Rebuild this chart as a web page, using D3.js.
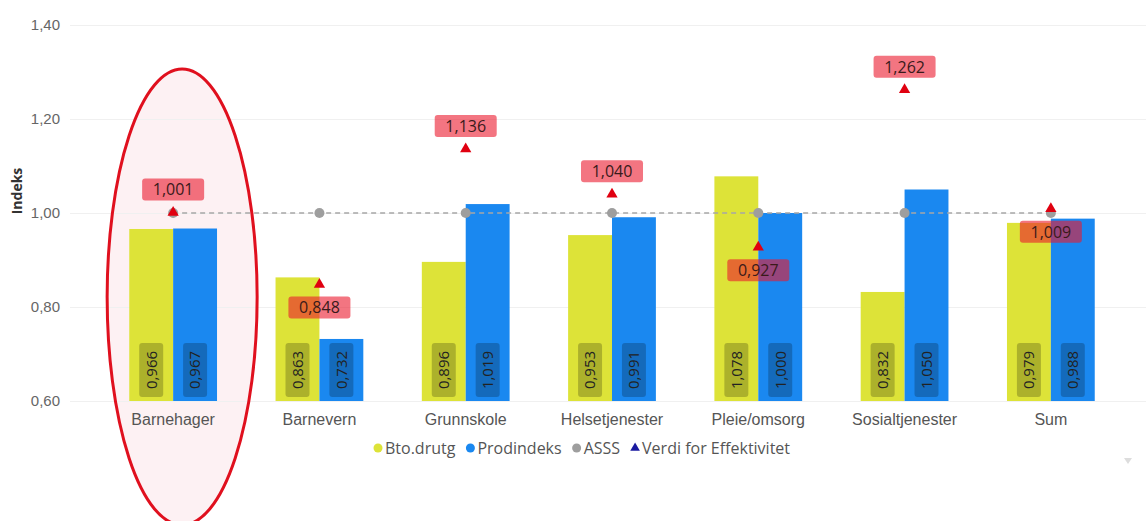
<!DOCTYPE html>
<html><head><meta charset="utf-8">
<script src="https://cdn.jsdelivr.net/npm/d3@7"></script>
<style>
html,body{margin:0;padding:0;background:#fff;}
svg{display:block;font-family:"Open Sans","Noto Sans",sans-serif;}
</style></head>
<body><svg id="c" width="1146" height="521"></svg>
<script>
const categories = ["Barnehager","Barnevern","Grunnskole","Helsetjenester","Pleie/omsorg","Sosialtjenester","Sum"];
const btoDrutg = [0.966,0.863,0.896,0.953,1.078,0.832,0.979];
const prodindeks = [0.967,0.732,1.019,0.991,1.000,1.050,0.988];
const asss = [1.000,1.000,1.000,1.000,1.000,1.000,1.000];
const effektivitet = [1.001,0.848,1.136,1.040,0.927,1.262,1.009];
const yTicks = [0.6,0.8,1.0,1.2,1.4];
const effLabelBelow = ["Barnevern","Pleie/omsorg","Sum"];
const legendItems = ["Bto.drutg","Prodindeks","ASSS","Verdi for Effektivitet"];
const highlighted = "Barnehager";

const W=1146,H=521;
const svg=d3.select("#c");
const loc=d3.formatLocale({decimal:",",thousands:" ",grouping:[3],currency:["","kr"]});
const f2=loc.format(".2f"), f3=loc.format(".3f");

const x=d3.scaleBand().domain(categories).range([100,1124]).paddingInner(0.4).paddingOuter(0.2);
const x1=d3.scaleBand().domain(["bto","prod"]).range([0,x.bandwidth()]);
const y=d3.scaleLinear().domain([0.6,1.4]).range([401,25]);

const colBto="#dde338", colProd="#1a88f0", colAsss="#9e9e9e", colTri="#e00010";

// highlight ellipse fill
const hx=x(highlighted)+x.bandwidth()/2+9;
svg.append("ellipse").attr("cx",hx).attr("cy",297).attr("rx",75).attr("ry",228)
  .attr("fill","#fdf1f3");

// grid + y axis
const gy=svg.append("g").attr("transform","translate(70,0)")
  .call(d3.axisLeft(y).tickValues(yTicks).tickFormat(f2).tickSize(-(W-70)).tickPadding(10));
gy.select(".domain").remove();
gy.selectAll(".tick line").attr("stroke","#f0f0f0");
gy.selectAll(".tick text").attr("fill","#666").attr("font-size",15);

svg.append("text").attr("transform","translate(22,"+191+") rotate(-90)")
  .attr("text-anchor","middle").attr("font-size",14).attr("font-weight","bold").attr("fill","#333").text("Indeks");

// x axis
const gx=svg.append("g").attr("transform","translate(0,401)")
  .call(d3.axisBottom(x).tickSize(0).tickPadding(13));
gx.select(".domain").remove();
gx.selectAll(".tick text").attr("fill","#555").attr("font-size",16);

// bars
const rows=categories.map((c,i)=>({c,bto:btoDrutg[i],prod:prodindeks[i],asss:asss[i],eff:effektivitet[i]}));
const bars=[];
rows.forEach(r=>{bars.push({c:r.c,k:"bto",v:r.bto});bars.push({c:r.c,k:"prod",v:r.prod});});
svg.append("g").selectAll("rect").data(bars).join("rect")
  .attr("x",d=>x(d.c)+x1(d.k)).attr("width",x1.bandwidth())
  .attr("y",d=>y(d.v)).attr("height",d=>y(0.6)-y(d.v))
  .attr("fill",d=>d.k==="bto"?colBto:colProd);

// bar value labels
const bl=svg.append("g").selectAll("g").data(bars).join("g")
  .attr("transform",d=>`translate(${x(d.c)+x1(d.k)+x1.bandwidth()/2},370)`);
bl.append("rect").attr("x",-12).attr("y",-27).attr("width",24).attr("height",54).attr("rx",3)
  .attr("fill","#000").attr("fill-opacity",0.22);
bl.append("text").attr("transform","rotate(-90)").attr("text-anchor","middle").attr("dy","0.36em")
  .attr("font-size",15).attr("fill","#222").text(d=>f3(d.v));

// ASSS line
const cx=c=>x(c)+x.bandwidth()/2;
svg.append("path").datum(rows)
  .attr("d",d3.line().x(d=>cx(d.c)).y(d=>y(d.asss)))
  .attr("fill","none").attr("stroke","#a6a6a6").attr("stroke-width",1.5).attr("stroke-dasharray","5,4");
svg.append("g").selectAll("circle").data(rows).join("circle")
  .attr("cx",d=>cx(d.c)).attr("cy",d=>y(d.asss)).attr("r",5).attr("fill",colAsss);

// triangles
const tri=d3.symbol().type(d3.symbolTriangle).size(55);
svg.append("g").selectAll("path").data(rows).join("path")
  .attr("d",tri).attr("transform",d=>`translate(${cx(d.c)},${y(d.eff)})`).attr("fill",colTri);

// effect labels
const el=svg.append("g").selectAll("g").data(rows).join("g")
  .attr("transform",d=>`translate(${cx(d.c)},${y(d.eff)+(effLabelBelow.includes(d.c)?23:-23)})`);
el.append("rect").attr("x",-31).attr("y",-11).attr("width",62).attr("height",22).attr("rx",3)
  .attr("fill","rgb(235,25,45)").attr("fill-opacity",0.6);
el.append("text").attr("text-anchor","middle").attr("dy","0.36em").attr("font-size",16).attr("fill","#3a1a1a")
  .text(d=>f3(d.eff));

// highlight ellipse stroke
svg.append("ellipse").attr("cx",hx).attr("cy",297).attr("rx",75).attr("ry",228)
  .attr("fill","none").attr("stroke","#e0101e").attr("stroke-width",3);

// legend
const lg=svg.append("g").attr("transform","translate(373,448)");
const lcolors=[colBto,colProd,colAsss,"#1a1aa0"];
let lx=0;
legendItems.forEach((t,i)=>{
  const g=lg.append("g").attr("transform",`translate(${lx},0)`);
  if(i<3) g.append("circle").attr("cx",5).attr("cy",0).attr("r",4.5).attr("fill",lcolors[i]);
  else g.append("path").attr("d",d3.symbol().type(d3.symbolTriangle).size(40)).attr("transform","translate(5,0)").attr("fill",lcolors[i]);
  const tx=g.append("text").attr("x",12).attr("dy","0.36em").attr("font-size",16).attr("fill","#555").text(t);
  lx+=12+tx.node().getComputedTextLength()+10;
});

// small chevron bottom-right
svg.append("path").attr("d","M1124,458 L1132,458 L1128,464 Z").attr("fill","#dddddd");
</script></body></html>
